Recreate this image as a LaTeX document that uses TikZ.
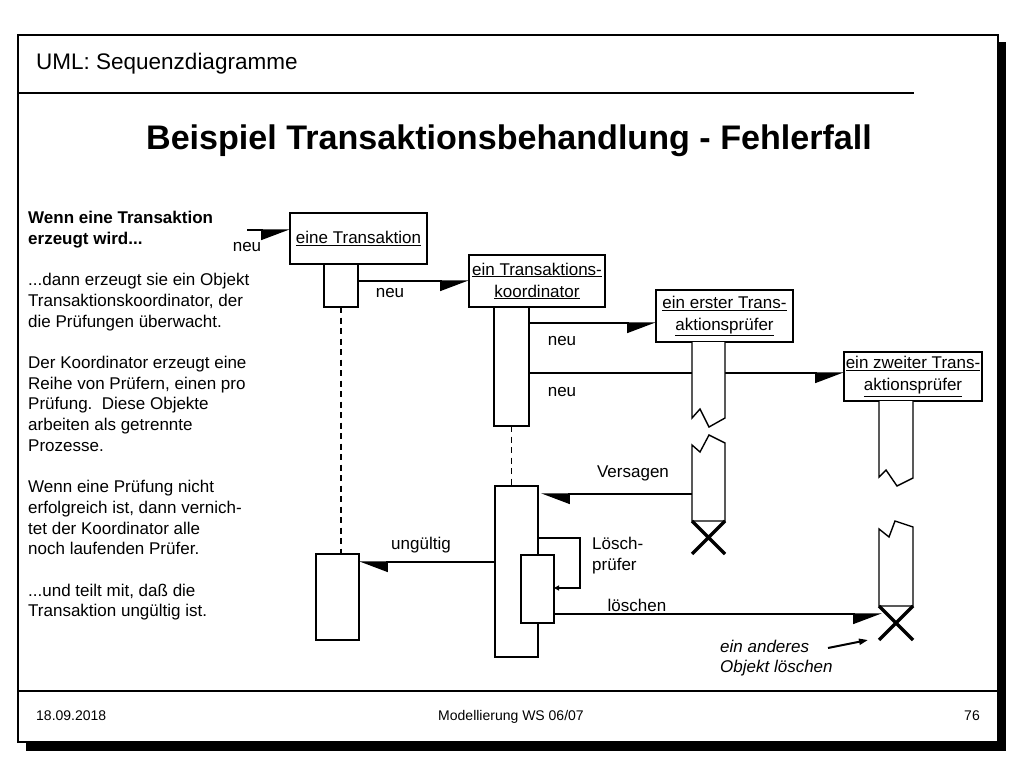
\documentclass[tikz,border=0pt]{standalone}
\usepackage{fontspec}
\setmainfont{Liberation Sans}
\usetikzlibrary{positioning, arrows.meta, calc}
\tikzset{
  objekt/.style={rectangle, draw=black, line width=1.4pt, fill=white, align=center, inner sep=0pt, outer sep=0pt, font=\fontsize{17}{22}\selectfont},
  aktiv/.style={rectangle, draw=black, line width=1.4pt, fill=white, inner sep=0pt, outer sep=0pt},
  nachricht/.style={line width=1.4pt, -{Triangle[harpoon, swap, length=27pt, width=20pt]}},
  antwort/.style={line width=1.4pt, -{Triangle[harpoon, length=27pt, width=20pt]}},
  beschr/.style={font=\fontsize{17}{21}\selectfont, inner sep=0pt},
  fliesstext/.style={align=left, font=\fontsize{17}{20.7}\selectfont, inner sep=0pt},
  lebenslinie/.style={line width=1.4pt, dash pattern=on 6pt off 4.5pt},
  segment/.style={line width=1.4pt, fill=white},
  kreuz/.style={line width=3.5pt},
  hinweis/.style={line width=2pt, -{Triangle[length=9pt, width=6pt]}}
}

\begin{document}
\begin{tikzpicture}[x=1pt, y=-1pt]
  \fill[white] (0,0) rectangle (1024,768);
  \useasboundingbox (0,0) rectangle (1024,768);

  % Folienrahmen mit Schatten
  \fill[black] (998,42) rectangle (1006,751);
  \fill[black] (26,742) rectangle (1006,751);
  \draw[line width=1.5pt, fill=white] (18,35) rectangle (998,742);
  \draw[line width=1.5pt] (18,93) -- (914,93);
  \draw[line width=1.5pt] (18,691) -- (998,691);

  \node[anchor=base west, inner sep=0pt, font=\fontsize{22.5}{27}\selectfont] (kopf) at (36,69) {UML: Sequenzdiagramme};
  \node[anchor=base, inner sep=0pt, font=\bfseries\fontsize{34.1}{40}\selectfont] (titel) at (509,149) {Beispiel Transaktionsbehandlung - Fehlerfall};
  \node[anchor=base west, inner sep=0pt, font=\fontsize{14}{17}\selectfont] (datum) at (36,720) {18.09.2018};
  \node[anchor=base, inner sep=0pt, font=\fontsize{14}{17}\selectfont] (kurs) at (511,720) {Modellierung WS 06/07};
  \node[anchor=base east, inner sep=0pt, font=\fontsize{14}{17}\selectfont] (seite) at (980,720) {76};

  \node[fliesstext, anchor=north west] (erklaerung) at (28,211) {\textbf{Wenn eine Transaktion}\\
    \textbf{erzeugt wird...}\\[20.7pt]
    ...dann erzeugt sie ein Objekt\\ Transaktionskoordinator, der\\ die Prüfungen überwacht.\\[20.7pt]
    Der Koordinator erzeugt eine\\ Reihe von Prüfern, einen pro\\ Prüfung.\ \ Diese Objekte\\ arbeiten als getrennte\\ Prozesse.\\[20.7pt]
    Wenn eine Prüfung nicht\\ erfolgreich ist, dann vernich-\\ tet der Koordinator alle\\ noch laufenden Prüfer.\\[20.7pt]
    ...und teilt mit, daß die\\ Transaktion ungültig ist.};

  % Objekte und Aktivierungen
  \node[objekt, minimum width=137pt, minimum height=51pt] (trans) at (358.5,238.5) {\underline{eine Transaktion}};
  \node[aktiv, minimum width=34pt, minimum height=43pt, below=0pt of trans, xshift=-17.5pt] (transakt1) {};
  \node[aktiv, minimum width=43pt, minimum height=86pt] (transakt2) at (337.5,597) {};

  \node[objekt, minimum width=136pt, minimum height=52pt] (koord) at (537,281) {\underline{ein Transaktions-}\\\underline{koordinator}};
  \node[aktiv, minimum width=35pt, minimum height=119pt, below=0pt of koord, xshift=-25.5pt] (koordakt1) {};
  \node[aktiv, minimum width=43pt, minimum height=171pt] (koordakt2) at (516.5,571.5) {};
  \node[aktiv, minimum width=33pt, minimum height=68pt] (loesch) at (537.5,589) {};

  \node[objekt, minimum width=137pt, minimum height=52pt] (erster) at (724.5,316) {\underline{ein erster Trans-}\\\underline{aktionsprüfer}};
  \node[objekt, minimum width=138pt, minimum height=49pt] (zweiter) at (913,376.5) {\underline{ein zweiter Trans-}\\\underline{aktionsprüfer}};

  \draw[lebenslinie] (transakt1.south) -- (transakt1.south |- transakt2.north);
  \draw[lebenslinie] (koordakt1.south) -- (koordakt1.south |- koordakt2.north);

  % Nachrichten
  \coordinate (start) at (247,230);
  \coordinate (erster2) at (692,494);
  \coordinate (zweiterX) at (882,614);
  \draw[nachricht] (start) -- (trans.west |- start);
  \draw[nachricht] (transakt1.east |- koord.west) -- (koord.west);
  \draw[nachricht] (koordakt1.east |- 0,323) -- (erster.west |- 0,323);
  \draw[nachricht] (koordakt1.east |- 0,373) -- (zweiter.west |- 0,373);
  \draw[antwort, shorten >=3pt] (erster2) -- (koordakt2.east |- erster2);
  \draw[antwort] (koordakt2.west |- 0,562) -- (transakt2.east |- 0,562);
  \draw[line width=1.2pt, -{Triangle[length=5pt, width=5pt]}] (koordakt2.east |- 0,538) -- ++(42,0) |- (loesch.east |- 0,588);
  \draw[nachricht] (loesch.east |- zweiterX) -- (zweiterX);

  % unterbrochene Lebenslinien der Pruefer
  \draw[segment] (692,342) -- (692,418) -- (700,409) -- (709,427) -- (725,418) -- (725,342);
  \draw[segment] (692,521) -- (692,445) -- (700,452) -- (709,435) -- (725,443) -- (725,521) -- cycle;
  \draw[kreuz] (692,521) -- (725,554) (725,521) -- (692,554);
  \draw[segment] (879,401) -- (879,477) -- (886,470) -- (897,486) -- (913,478) -- (913,401);
  \draw[segment] (879,606) -- (879,529) -- (889,537) -- (895,521) -- (913,527) -- (913,606) -- cycle;
  \draw[kreuz] (879,606) -- (913,640) (913,606) -- (879,640);

  % Beschriftungen
  \node[beschr] (neu1) at (247,247) {neu};
  \node[beschr] (neu2) at (390,293) {neu};
  \node[beschr] (neu3) at (562,341) {neu};
  \node[beschr] (neu4) at (562,392) {neu};
  \node[beschr] (versagen) at (633,473) {Versagen};
  \node[beschr] (ungueltig) at (421,545) {ungültig};
  \node[beschr, align=left, anchor=west] (loeschpruef) at (592,556) {Lösch-\\prüfer};
  \node[beschr] (loeschen) at (637,605) {löschen};
  \node[beschr, align=left, anchor=west, font=\itshape\fontsize{17}{20}\selectfont] (anm) at (720,658) {ein anderes\\Objekt löschen};

  \coordinate (anmstart) at (828,648);
  \coordinate (kreuz2) at (868,640);
  \draw[hinweis] (anmstart) -- (kreuz2);
\end{tikzpicture}
\end{document}
